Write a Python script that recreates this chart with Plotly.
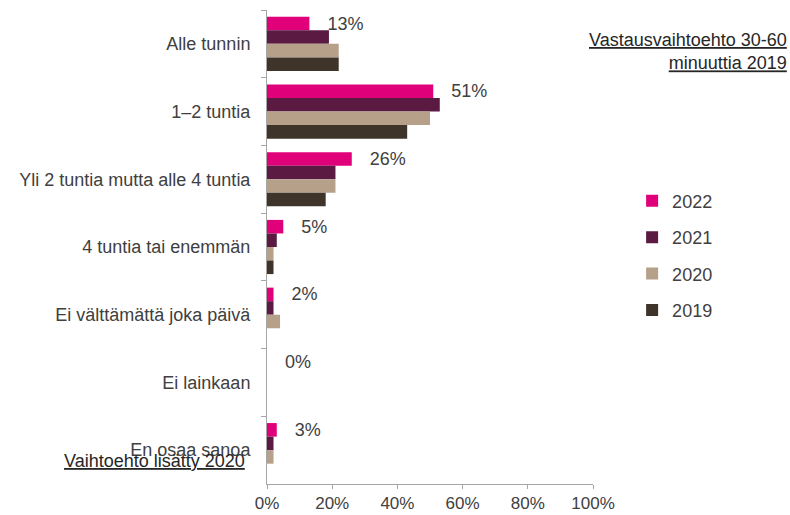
import plotly.graph_objects as go

categories = [
    "Alle tunnin",
    "1\u20132 tuntia",
    "Yli 2 tuntia mutta alle 4 tuntia",
    "4 tuntia tai enemmän",
    "Ei välttämättä joka päivä",
    "Ei lainkaan",
    "En osaa sanoa",
]
years = ["2022", "2021", "2020", "2019"]
values = {
    "2022": [13, 51, 26, 5, 2, 0, 3],
    "2021": [19, 53, 21, 3, 2, 0, 2],
    "2020": [22, 50, 21, 2, 4, 0, 2],
    "2019": [22, 43, 18, 2, None, 0, None],
}
colors = {
    "2022": "#E0007A",
    "2021": "#5A1A42",
    "2020": "#B6A08A",
    "2019": "#3E3429",
}
x_ticks = [0, 20, 40, 60, 80, 100]
x_tick_labels = [f"{v}%" for v in x_ticks]

FONT = "Liberation Sans, Arial, sans-serif"
GREY_TEXT = "#404040"

fig = go.Figure()
for yr in years:
    show_text = yr == "2022"
    fig.add_trace(go.Bar(
        name=yr,
        y=categories,
        x=values[yr],
        orientation="h",
        marker=dict(color=colors[yr], line=dict(width=0)),
        text=[f"\u00a0\u00a0\u00a0{v}%" for v in values[yr]] if show_text else None,
        textposition="outside" if show_text else "none",
        textfont=dict(family=FONT, size=18, color=GREY_TEXT),
        constraintext="none",
        cliponaxis=False,
        legendgroup=yr,
    ))

fig.update_layout(
    width=790,
    height=515,
    margin=dict(l=267, r=197, t=10, b=31),
    barmode="group",
    bargap=0.2,
    bargroupgap=0,
    plot_bgcolor="white",
    paper_bgcolor="white",
    font=dict(family=FONT, size=18, color=GREY_TEXT),
    showlegend=True,
    legend=dict(
        x=1.12, y=0.636, xanchor="left", yanchor="top",
        font=dict(family=FONT, size=18, color=GREY_TEXT),
        tracegroupgap=10,
        itemwidth=30,
        bgcolor="rgba(0,0,0,0)",
    ),
    xaxis=dict(
        range=[0, 100],
        tickvals=x_ticks,
        ticktext=x_tick_labels,
        showgrid=False,
        zeroline=False,
        showline=True,
        linecolor="#A6A6A6",
        linewidth=1,
        ticks="outside",
        ticklen=4,
        tickcolor="#A6A6A6",
        ticklabelstandoff=0,
        tickfont=dict(family=FONT, size=17, color=GREY_TEXT),
        automargin=False,
        fixedrange=True,
    ),
    yaxis=dict(
        autorange="reversed",
        showgrid=False,
        showline=True,
        linecolor="#A6A6A6",
        linewidth=1,
        ticks="outside",
        tickson="boundaries",
        ticklen=5,
        tickcolor="#A6A6A6",
        ticklabelstandoff=12,
        tickfont=dict(family=FONT, size=18, color=GREY_TEXT),
        automargin=False,
    ),
    annotations=[
        dict(
            text="<u>Vastausvaihtoehto 30-60</u><br><u>minuuttia 2019</u>",
            xref="paper", yref="paper",
            x=1.60, y=0.962, xanchor="right", yanchor="top",
            align="right", showarrow=False,
            font=dict(family=FONT, size=18, color="#262626"),
        ),
        dict(
            text="<u>Vaihtoehto lisätty 2020</u>",
            xref="paper", yref="paper",
            x=-0.06, y=0.049, xanchor="right", yanchor="middle",
            showarrow=False,
            font=dict(family=FONT, size=18, color="#262626"),
        ),
    ],
)

fig.write_html("out.html")
